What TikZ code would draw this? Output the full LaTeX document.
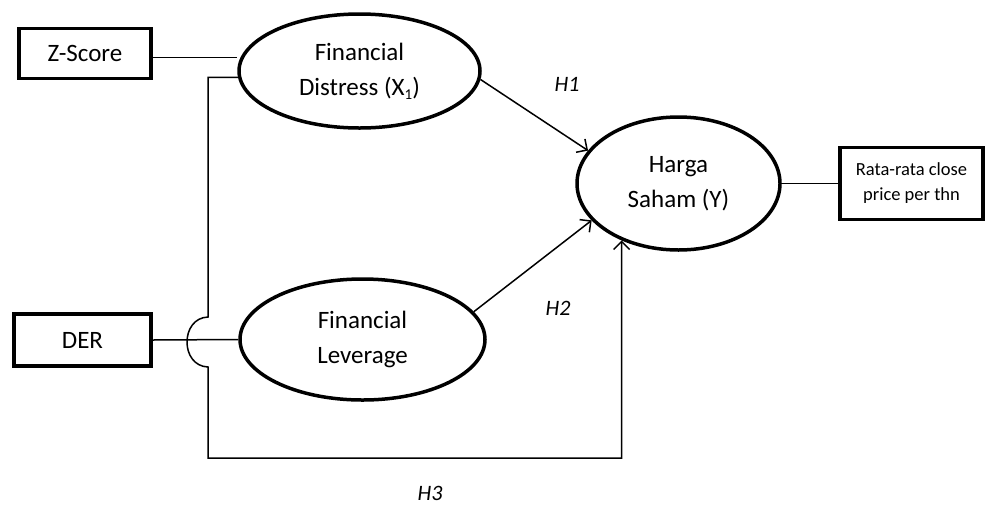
\documentclass[tikz,border=0pt]{standalone}
\usepackage{fontspec}
\setmainfont{Carlito}
\usetikzlibrary{shapes.geometric,arrows.meta}

\begin{document}
\begin{tikzpicture}[x=1pt,y=-1pt]
\tikzstyle{indicator}=[draw, rectangle, line width=3.5pt, inner sep=0pt, align=center, font=\fontsize{25}{30}\selectfont]
\tikzstyle{construct}=[draw, ellipse, line width=3.5pt, inner sep=0pt, align=center, font=\fontsize{25}{35}\selectfont]
\tikzstyle{link}=[line width=1.5pt]
\tikzstyle{hyp}=[link, -{Straight Barb[length=8pt,width=16pt]}]
\tikzstyle{hlabel}=[font=\itshape\fontsize{22}{25}\selectfont]
\useasboundingbox (0,0) rectangle (987,504);
\node[indicator, minimum width=132pt, minimum height=50pt] (zscore) at (85,53.5) {Z-Score};
\node[indicator, minimum width=137pt, minimum height=52pt] (der) at (82.5,340) {DER};
\node[indicator, minimum width=143pt, minimum height=72pt, font=\fontsize{18.5}{25}\selectfont] (rata) at (911.5,183.5) {Rata-rata close\\price per thn};
\node[construct, minimum width=241pt, minimum height=114pt] (distress) at (359.5,71) {Financial\\Distress (X{\fontsize{15}{15}\selectfont\raisebox{-4pt}{1}})};
\node[construct, minimum width=245pt, minimum height=121pt] (leverage) at (362.5,339.5) {Financial\\Leverage};
\node[construct, minimum width=203pt, minimum height=133pt] (harga) at (678.5,183.5) {Harga\\Saham (Y)};
\node[hlabel] (h1) at (567,84) {H1};
\node[hlabel] (h2) at (558,308) {H2};
\node[hlabel] (h3) at (430,493) {H3};
\coordinate (jt) at (208,317);
\coordinate (jb) at (208,367);
\coordinate (corner) at (208,458);
\draw[link] ([yshift=-4pt]zscore.east) -- ([yshift=-4pt]zscore.east -| distress.west);
\draw[link] (der.east) -- (leverage.west);
\draw[link] (harga.east) -- (rata.west);
\draw[hyp] (distress.-4) -- (harga.160);
\draw[hyp] (leverage.14) -- (harga.203);
\draw[hyp] (distress.183) -| (jt) .. controls (180,318) and (180,366) .. (jb) -- (corner) -| (harga.225.5);
\end{tikzpicture}
\end{document}
